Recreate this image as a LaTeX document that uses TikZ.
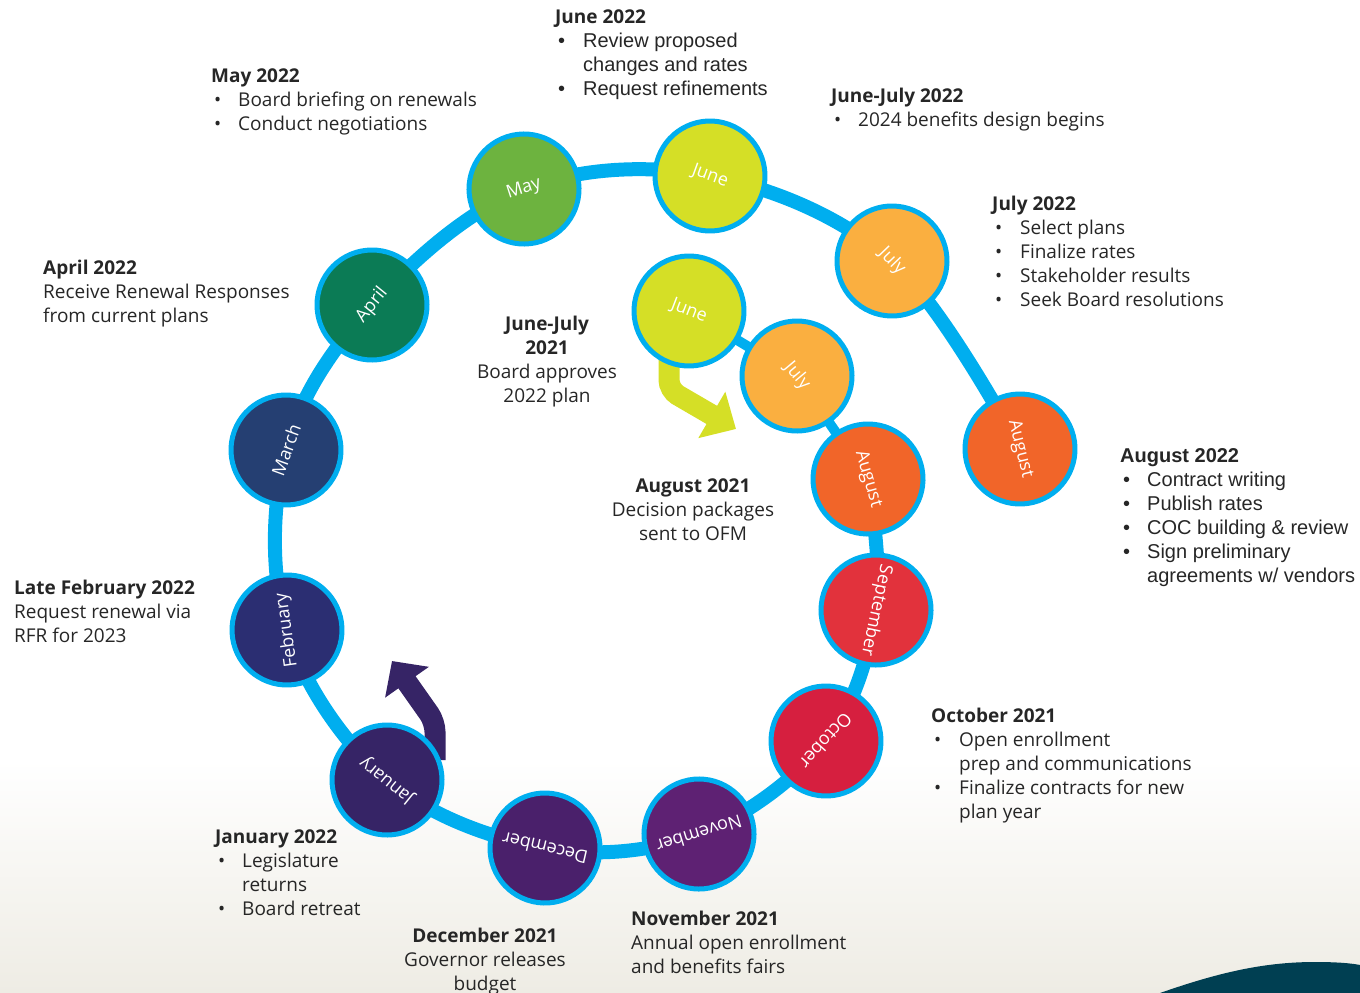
\documentclass[tikz,border=0pt]{standalone}
\usepackage{fontspec}
\setmainfont{Open Sans}
\newfontfamily\arialf{Liberation Sans}
\usetikzlibrary{arrows.meta}
\definecolor{ringblue}{HTML}{00AEEF}
\definecolor{txtc}{HTML}{262626}
\definecolor{bgbeige}{HTML}{EEECE4}
\definecolor{tealc}{HTML}{003F52}
\definecolor{cMay}{HTML}{6DB33F}
\definecolor{cJun}{HTML}{D5DF26}
\definecolor{cJul}{HTML}{FAAF40}
\definecolor{cAug}{HTML}{F16529}
\definecolor{cApr}{HTML}{0B7B55}
\definecolor{cMar}{HTML}{253F72}
\definecolor{cFeb}{HTML}{2B2E72}
\definecolor{cJan}{HTML}{362466}
\definecolor{cDec}{HTML}{4A206B}
\definecolor{cNov}{HTML}{5E2173}
\definecolor{cOct}{HTML}{D61F3F}
\definecolor{cSep}{HTML}{E2323C}
\newcommand\fstrut{\rule{0pt}{17pt}}
\newcommand\bl[1]{\makebox[#1][l]{\hspace{3pt}\textbullet}}
\newcommand\arl{\arialf\fontsize{20}{24}\selectfont}
\begin{document}
\begin{tikzpicture}[x=1pt,y=-1pt,
  mc/.style={circle, draw=ringblue, line width=5pt, minimum size=110pt, inner sep=0pt, text=white, font=\fontsize{18}{20}\selectfont},
  tb/.style={anchor=north west, inner sep=0pt, align=left, text=txtc, font=\fontsize{19}{24}\selectfont},
  tc/.style={anchor=north, inner sep=0pt, align=center, text=txtc, font=\fontsize{19}{24}\selectfont},
  ring/.style={ringblue, line width=14pt},
  inring/.style={ringblue, line width=10pt}]
\useasboundingbox (0,0) rectangle (1360,993);
\shade[top color=white, bottom color=bgbeige] (0,760) rectangle (1360,993);
\fill[tealc] (1160,993) .. controls (1220,972) and (1265,962) .. (1315,962) .. controls (1335,962) and (1350,963) .. (1360,965) -- (1360,993) -- cycle;

% circle centres
\coordinate (pAug22) at (1020,449);
\coordinate (pJul22) at (892,261);
\coordinate (pJun22) at (710,176);
\coordinate (pMay) at (524,189);
\coordinate (pApr) at (372,305);
\coordinate (pMar) at (286,450);
\coordinate (pFeb) at (287,630);
\coordinate (pJan) at (387,780);
\coordinate (pDec) at (545,848);
\coordinate (pNov) at (699,834);
\coordinate (pOct) at (826,741);
\coordinate (pSep) at (876,610);
\coordinate (pAug21) at (868,479);
\coordinate (pJul21) at (797,376);
\coordinate (pJun21) at (689,311);

% ring
\draw[ring] plot[smooth, tension=0.6] coordinates {(pAug22) (pJul22) (pJun22) (pMay) (pApr) (pMar) (pFeb) (pJan) (pDec) (pNov) (pOct) (pSep) (pAug21)};
\draw[inring] (pAug21) -- (pJul21) -- (pJun21);

% arrows
\coordinate (ya0) at (669,350);
\coordinate (ya1) at (669,390);
\coordinate (ya2) at (736,429);
\draw[line width=21pt, cJun, rounded corners=10pt, -{Triangle[length=28pt,width=52pt]}] (ya0) -- (ya1) -- (ya2);
\coordinate (pa0) at (435,760);
\coordinate (pa1) at (435,722);
\coordinate (pa2) at (392,661);
\draw[line width=21pt, cJan, rounded corners=10pt, -{Triangle[length=26pt,width=52pt]}] (pa0) -- (pa1) -- (pa2);

% month circles
\node[mc, fill=cAug, rotate=-76] (aug22) at (pAug22) {August};
\node[mc, fill=cJul, rotate=-46] (jul22) at (pJul22) {July};
\node[mc, fill=cJun, rotate=-20] (jun22) at (pJun22) {June};
\node[mc, fill=cMay, rotate=18] (may) at (pMay) {May};
\node[mc, fill=cApr, rotate=51] (apr) at (pApr) {April};
\node[mc, fill=cMar, rotate=70] (mar) at (pMar) {March};
\node[mc, fill=cFeb, rotate=98] (feb) at (pFeb) {February};
\node[mc, fill=cJan, rotate=141] (jan) at (pJan) {January};
\node[mc, fill=cDec, rotate=167] (dec) at (pDec) {December};
\node[mc, fill=cNov, rotate=197] (nov) at (pNov) {November};
\node[mc, fill=cOct, rotate=228] (oct) at (pOct) {October};
\node[mc, fill=cSep, rotate=-102] (sep) at (pSep) {September};
\node[mc, fill=cAug, rotate=-74] (aug21) at (pAug21) {August};
\node[mc, fill=cJul, rotate=-50] (jul21) at (pJul21) {July};
\node[mc, fill=cJun, rotate=-21] (jun21) at (pJun21) {June};

% texts
\node[tb] (tJun22) at (555,6) {\fstrut\textbf{June 2022}\\
  {\arl\bl{28pt}Review proposed}\\
  {\arl\hspace*{28pt}changes and rates}\\
  {\arl\bl{28pt}Request refinements}};
\node[tb] (tMay) at (211,65) {\fstrut\textbf{May 2022}\\
  \bl{27pt}Board briefing on renewals\\
  \bl{27pt}Conduct negotiations};
\node[tb] (tJJ22) at (831,85) {\fstrut\textbf{June-July 2022}\\
  \bl{27pt}2024 benefits design begins};
\node[tb] (tJul22) at (992,193) {\fstrut\textbf{July 2022}\\
  \bl{28pt}Select plans\\
  \bl{28pt}Finalize rates\\
  \bl{28pt}Stakeholder results\\
  \bl{28pt}Seek Board resolutions};
\node[tb] (tApr) at (43,257) {\fstrut\textbf{April 2022}\\
  Receive Renewal Responses\\
  from current plans};
\node[tc] (tJJ21) at (547,313) {\fstrut\textbf{June-July}\\ \textbf{2021}\\
  Board approves\\ 2022 plan};
\node[tc] (tAug21) at (693,475) {\fstrut\textbf{August 2021}\\
  Decision packages\\ sent to OFM};
\node[tb] (tAug22) at (1120,445) {\fstrut{\arl\bfseries August 2022}\\
  {\arl\bl{27pt}Contract writing}\\
  {\arl\bl{27pt}Publish rates}\\
  {\arl\bl{27pt}COC building \& review}\\
  {\arl\bl{27pt}Sign preliminary}\\
  {\arl\hspace*{27pt}agreements w/ vendors}};
\node[tb] (tFeb) at (14,577) {\fstrut\textbf{Late February 2022}\\
  Request renewal via\\
  RFR for 2023};
\node[tb] (tOct) at (931,705) {\fstrut\textbf{October 2021}\\
  \bl{28pt}Open enrollment\\
  \hspace*{28pt}prep and communications\\
  \bl{28pt}Finalize contracts for new\\
  \hspace*{28pt}plan year};
\node[tb] (tJan) at (215,826) {\fstrut\textbf{January 2022}\\
  \bl{27pt}Legislature\\
  \hspace*{27pt}returns\\
  \bl{27pt}Board retreat};
\node[tc] (tDec) at (485,925) {\fstrut\textbf{December 2021}\\
  Governor releases\\ budget};
\node[tb] (tNov) at (631,908) {\fstrut\textbf{November 2021}\\
  Annual open enrollment\\
  and benefits fairs};
\end{tikzpicture}
\end{document}
